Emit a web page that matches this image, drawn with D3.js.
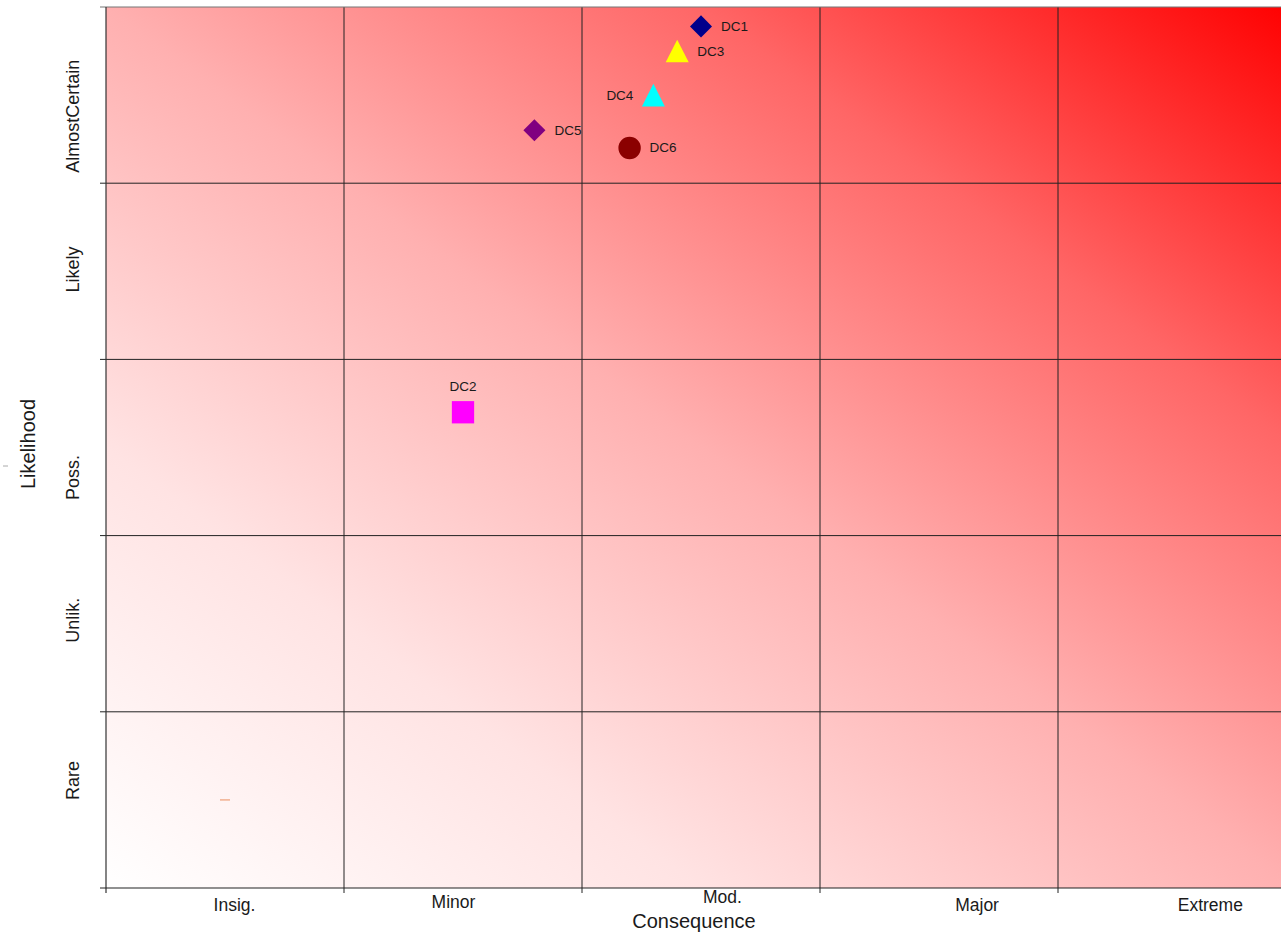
<!DOCTYPE html>
<html><head><meta charset="utf-8">
<script src="https://cdn.jsdelivr.net/npm/d3@7"></script>
<style>
body{margin:0;background:#fff;overflow:hidden}
svg{display:block}
text{font-family:"Liberation Sans",Arial,sans-serif;fill:#1a1a1a}
</style>
</head><body><svg id="c" width="1281" height="937"></svg>
<script>
// ---- data ----
const consequenceLabels = ["Insig.", "Minor", "Mod.", "Major", "Extreme"];
const consequenceLabelPos = [0.54, 1.46, 2.59, 3.66, 4.64];
const likelihoodLabels = ["Rare", "Unlik.", "Poss.", "Likely", "AlmostCertain"];
const likelihoodLabelPos = [0.61, 1.52, 2.33, 3.51, 4.38];
const gridBreaks = [0, 1, 2, 3, 4, 5];
const riskNames = ["DC1", "DC2", "DC3", "DC4", "DC5", "DC6"];
const riskConsequence = [2.50, 1.50, 2.40, 2.30, 1.80, 2.20];
const riskLikelihood = [4.89, 2.70, 4.75, 4.50, 4.30, 4.20];
const riskShapes = ["diamond", "square", "triangle", "triangle", "diamond", "circle"];
const riskColors = ["#00008b", "#ff00ff", "#ffff00", "#00ffff", "#800080", "#8b0000"];
const labelSides = ["right", "top", "right", "left", "right", "right"];
const placeholderPoint = {c: 0.5, l: 0.5};

// ---- style ----
const tickDy = [0, -3, -8, 0, 0];
const plot = {left: 106, top: 7, cellW: 238, cellH: 176.2};

const svg = d3.select("#c");
const x = d3.scaleLinear().domain([0, 5]).range([plot.left, plot.left + 5 * plot.cellW]);
const y = d3.scaleLinear().domain([0, 5]).range([plot.top + 5 * plot.cellH, plot.top]);

// gradient
const defs = svg.append("defs");
const grad = defs.append("linearGradient").attr("id", "risk")
  .attr("x1", 0).attr("y1", 1).attr("x2", 1).attr("y2", 0);
[[0, "#ffffff"], [0.25, "#ffe3e3"], [0.5, "#ffb0b0"], [0.75, "#ff6666"], [1, "#ff0000"]]
  .forEach(s => grad.append("stop").attr("offset", s[0]).attr("stop-color", s[1]));

svg.append("rect")
  .attr("x", x(0)).attr("y", y(5))
  .attr("width", x(5) - x(0)).attr("height", y(0) - y(5))
  .attr("fill", "url(#risk)");

// grid
const g = svg.append("g");
g.selectAll("line.v").data(gridBreaks.slice(1, 5)).join("line")
  .attr("x1", d => x(d)).attr("x2", d => x(d))
  .attr("y1", y(5)).attr("y2", y(0) + 5)
  .attr("stroke", "#222").attr("stroke-width", 1);
g.selectAll("line.h").data(gridBreaks.slice(1, 5)).join("line")
  .attr("y1", d => y(d)).attr("y2", d => y(d))
  .attr("x1", x(0) - 6).attr("x2", x(5))
  .attr("stroke", "#222").attr("stroke-width", 1);
// top line
svg.append("line").attr("x1", x(0) - 6).attr("x2", x(5)).attr("y1", y(5)).attr("y2", y(5))
  .attr("stroke", "#777").attr("stroke-width", 1.2);
// left axis
svg.append("line").attr("x1", x(0)).attr("x2", x(0)).attr("y1", y(5)).attr("y2", y(0) + 5)
  .attr("stroke", "#333").attr("stroke-width", 1.2);
// bottom axis
svg.append("line").attr("x1", x(0) - 6).attr("x2", x(5)).attr("y1", y(0)).attr("y2", y(0))
  .attr("stroke", "#222").attr("stroke-width", 1.2);

// tick labels
svg.selectAll("text.xt").data(consequenceLabels).join("text")
  .attr("class", "xt")
  .attr("x", (d, i) => x(consequenceLabelPos[i]))
  .attr("y", (d, i) => y(0) + 23 + tickDy[i])
  .attr("text-anchor", "middle").attr("font-size", 17.5)
  .text(d => d);

svg.selectAll("text.yt").data(likelihoodLabels).join("text")
  .attr("class", "yt")
  .attr("transform", (d, i) => `translate(79,${y(likelihoodLabelPos[i])}) rotate(-90)`)
  .attr("text-anchor", "middle").attr("font-size", 18)
  .text(d => d);

// axis titles
svg.append("text").attr("x", 694).attr("y", 928).attr("text-anchor", "middle")
  .attr("font-size", 20).text("Consequence");
svg.append("text").attr("transform", "translate(35,444) rotate(-90)")
  .attr("text-anchor", "middle").attr("font-size", 20).text("Likelihood");
svg.append("line").attr("x1", 3).attr("x2", 8).attr("y1", 466).attr("y2", 466)
  .attr("stroke", "#aaa").attr("stroke-width", 1);

// placeholder dash
svg.append("line")
  .attr("x1", x(placeholderPoint.c) - 5).attr("x2", x(placeholderPoint.c) + 5)
  .attr("y1", y(placeholderPoint.l)).attr("y2", y(placeholderPoint.l))
  .attr("stroke", "#f2b496").attr("stroke-width", 1.6);

// symbols
const tri = {draw(ctx, size) { const w = 11.5, h = 11.3; ctx.moveTo(0, -h); ctx.lineTo(w, h); ctx.lineTo(-w, h); ctx.closePath(); }};
const symbolFor = {
  diamond: d3.symbol().type(d3.symbolSquare).size(243),
  square: d3.symbol().type(d3.symbolSquare).size(497),
  triangle: d3.symbol().type(tri).size(1),
  circle: d3.symbol().type(d3.symbolCircle).size(394)
};
const pts = riskNames.map((n, i) => ({n, c: riskConsequence[i], l: riskLikelihood[i], s: riskShapes[i], col: riskColors[i], side: labelSides[i]}));

svg.selectAll("path.pt").data(pts).join("path")
  .attr("class", "pt")
  .attr("d", d => symbolFor[d.s]())
  .attr("transform", d => `translate(${x(d.c)},${y(d.l)})` + (d.s === "diamond" ? " rotate(45)" : ""))
  .attr("fill", d => d.col);

svg.selectAll("text.pl").data(pts).join("text")
  .attr("class", "pl")
  .attr("x", d => d.side === "right" ? x(d.c) + 20 : d.side === "left" ? x(d.c) - 20 : x(d.c))
  .attr("y", d => d.side === "top" ? y(d.l) - 21 : y(d.l) + 4.5)
  .attr("text-anchor", d => d.side === "right" ? "start" : d.side === "left" ? "end" : "middle")
  .attr("font-size", 13.5)
  .text(d => d.n);
</script>
</body></html>
